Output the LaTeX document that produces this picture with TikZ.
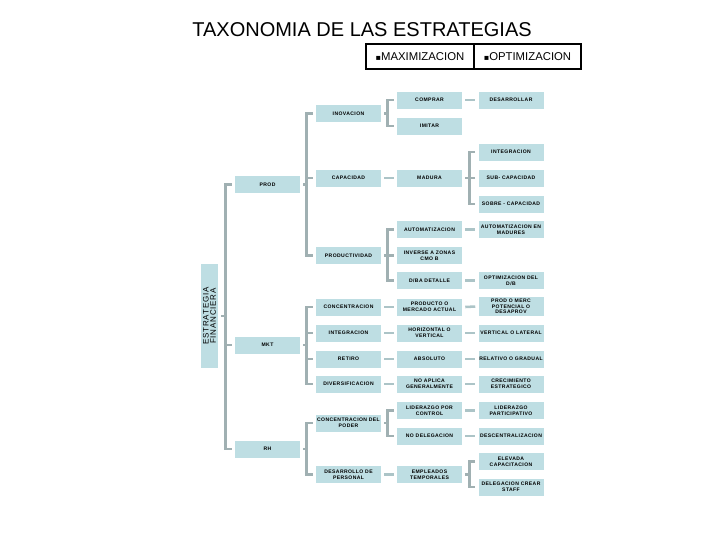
\documentclass[tikz,border=0pt]{standalone}
\usepackage{fontspec}
\setmainfont{Liberation Sans}
\newfontfamily\boxfont{Liberation Sans}[LetterSpace=8.0]
\newfontfamily\efont{Liberation Sans}[LetterSpace=10.0]
\newfontfamily\symfont{DejaVu Sans}
\usetikzlibrary{calc}
\definecolor{boxc}{RGB}{190,222,227}
\definecolor{brkc}{RGB}{160,176,178}
\definecolor{conc}{RGB}{172,196,199}
\begin{document}
\begin{tikzpicture}[x=0.75pt,y=-0.75pt,
  bx/.style={fill=boxc, minimum width=48.75pt, minimum height=12.75pt, inner sep=0pt, align=center,
    font=\boxfont\bfseries\fontsize{3.8}{4.6}\selectfont, text=black},
  brk/.style={draw=brkc, line width=1.9pt},
  cn/.style={draw=conc, line width=1.9pt},
  hdr/.style={draw=black, line width=0.8pt, minimum height=18.75pt, inner sep=0pt,
    font=\fontsize{8.5}{10}\selectfont}
]
\useasboundingbox (0,0) rectangle (720,540);

% title and header
\node (title) at (362,29.5) {\fontsize{15}{18}\selectfont TAXONOMIA DE LAS ESTRATEGIAS};
\node[hdr, minimum width=81pt] (hmax) at (420,56.5) {{\symfont\fontsize{6}{8}\selectfont ▪}MAXIMIZACION};
\node[hdr, minimum width=80.25pt] (hopt) at (527.5,56.5) {{\symfont\fontsize{6}{8}\selectfont ▪}OPTIMIZACION};

% root
\node[fill=boxc, rotate=90, minimum width=78pt, minimum height=12.75pt, inner sep=0pt, align=center,
  font=\efont\fontsize{6}{5.4}\selectfont] (ef) at (209.5,316) {ESTRATEGIA\\FINANCIERA};

% column 2
\node[bx] (prod) at (267.5,184.5) {PROD};
\node[bx] (mkt) at (267.5,345) {MKT};
\node[bx] (rh) at (267.5,449) {RH};

% column 3
\node[bx] (inov) at (348.5,113.5) {INOVACION};
\node[bx] (cap) at (348.5,178) {CAPACIDAD};
\node[bx] (prodv) at (348.5,255.5) {PRODUCTIVIDAD};
\node[bx] (conc) at (348.5,307) {CONCENTRACION};
\node[bx] (integ) at (348.5,333) {INTEGRACION};
\node[bx] (retiro) at (348.5,359) {RETIRO};
\node[bx] (divers) at (348.5,384) {DIVERSIFICACION};
\node[bx] (concp) at (348.5,423) {CONCENTRACION DEL\\PODER};
\node[bx] (desp) at (348.5,474.5) {DESARROLLO DE\\PERSONAL};

% column 4
\node[bx] (comprar) at (429.5,100) {COMPRAR};
\node[bx] (imitar) at (429.5,126) {IMITAR};
\node[bx] (madura) at (429.5,178) {MADURA};
\node[bx] (autom) at (429.5,229.5) {AUTOMATIZACION};
\node[bx] (inverse) at (429.5,255.5) {INVERSE A ZONAS\\CMO B};
\node[bx] (dba) at (429.5,280.5) {D/BA DETALLE};
\node[bx] (prodm) at (429.5,307) {PRODUCTO O\\MERCADO ACTUAL};
\node[bx] (horiz) at (429.5,333) {HORIZONTAL O\\VERTICAL};
\node[bx] (absol) at (429.5,359) {ABSOLUTO};
\node[bx] (noapl) at (429.5,384) {NO APLICA\\GENERALMENTE};
\node[bx] (lidc) at (429.5,410.5) {LIDERAZGO POR\\CONTROL};
\node[bx] (nodel) at (429.5,436) {NO DELEGACION};
\node[bx] (emp) at (429.5,474.5) {EMPLEADOS\\TEMPORALES};

% column 5
\node[bx] (desarr) at (511,100) {DESARROLLAR};
\node[bx] (integ5) at (511,152) {INTEGRACION};
\node[bx] (subc) at (511,178) {SUB- CAPACIDAD};
\node[bx] (sobre) at (511,204) {SOBRE - CAPACIDAD};
\node[bx] (autmad) at (511,229.5) {AUTOMATIZACION EN\\MADURES};
\node[bx] (optdb) at (511,280.5) {OPTIMIZACION DEL\\D/B};
\node[bx, minimum height=14.25pt, font=\boxfont\bfseries\fontsize{3.8}{4.2}\selectfont] (prodmerc) at (511,306.5) {PROD O MERC\\POTENCIAL O\\DESAPROV};
\node[bx] (vertlat) at (511,333) {VERTICAL O LATERAL};
\node[bx] (relat) at (511,359) {RELATIVO O GRADUAL};
\node[bx] (crec) at (511,384) {CRECIMIENTO\\ESTRATEGICO};
\node[bx] (lidp) at (511,410.5) {LIDERAZGO\\PARTICIPATIVO};
\node[bx] (descen) at (511,436) {DESCENTRALIZACION};
\node[bx] (elev) at (511,461.5) {ELEVADA\\CAPACITACION};
\node[bx] (deleg) at (511,487) {DELEGACION CREAR\\STAFF};

% brackets
% main
\draw[brk] ($(prod.west)+(-3,0)$) -- ++(-6,0) |- ($(rh.west)+(-3,0)$);
\draw[brk] ($(mkt.west)+(-3,0)$) -- ++(-6,0);
\draw[brk] ($(ef.south)+(3,0)$) -- ++(5,0);
% prod
\draw[brk] ($(inov.west)+(-3,0)$) -- ++(-6,0) |- ($(prodv.west)+(-3,0)$);
\draw[brk] ($(cap.west)+(-3,0)$) -- ++(-6,0);
\draw[brk] ($(prod.east)+(3,0)$) -- ++(4,0);
% mkt
\draw[brk] ($(conc.west)+(-3,0)$) -- ++(-6,0) |- ($(divers.west)+(-3,0)$);
\draw[brk] ($(integ.west)+(-3,0)$) -- ++(-6,0);
\draw[brk] ($(retiro.west)+(-3,0)$) -- ++(-6,0);
\draw[brk] ($(mkt.east)+(3,0)$) -- ++(4,0);
% rh
\draw[brk] ($(concp.west)+(-3,0)$) -- ++(-6,0) |- ($(desp.west)+(-3,0)$);
\draw[brk] ($(rh.east)+(3,0)$) -- ++(4,0);
% inovacion
\draw[brk] ($(comprar.west)+(-3,0)$) -- ++(-6,0) |- ($(imitar.west)+(-3,0)$);
\draw[brk] ($(inov.east)+(3,0)$) -- ++(4,0);
% productividad
\draw[brk] ($(autom.west)+(-3,0)$) -- ++(-6,0) |- ($(dba.west)+(-3,0)$);
\draw[brk] ($(inverse.west)+(-3,0)$) -- ++(-6,0);
\draw[brk] ($(prodv.east)+(3,0)$) -- ++(4,0);
% concentracion del poder
\draw[brk] ($(lidc.west)+(-3,0)$) -- ++(-6,0) |- ($(nodel.west)+(-3,0)$);
\draw[brk] ($(concp.east)+(3,0)$) -- ++(4,0);
% madura
\draw[brk] ($(integ5.west)+(-3,0)$) -- ++(-6,0) |- ($(sobre.west)+(-3,0)$);
\draw[brk] ($(subc.west)+(-3,0)$) -- ++(-6,0);
\draw[brk] ($(madura.east)+(3,0)$) -- ++(4,0);
% empleados
\draw[brk] ($(elev.west)+(-3,0)$) -- ++(-6,0) |- ($(deleg.west)+(-3,0)$);
\draw[brk] ($(emp.east)+(3,0)$) -- ++(4,0);

% straight connectors
\foreach \a/\b in {cap/madura, comprar/desarr, autom/autmad, dba/optdb, conc/prodm, prodm/prodmerc,
  integ/horiz, horiz/vertlat, retiro/absol, absol/relat, divers/noapl, noapl/crec,
  lidc/lidp, nodel/descen, desp/emp}
  \draw[cn] ($(\a.east)+(3,0)$) -- ($(\b.west)+(-3,0)$);
\end{tikzpicture}
\end{document}
